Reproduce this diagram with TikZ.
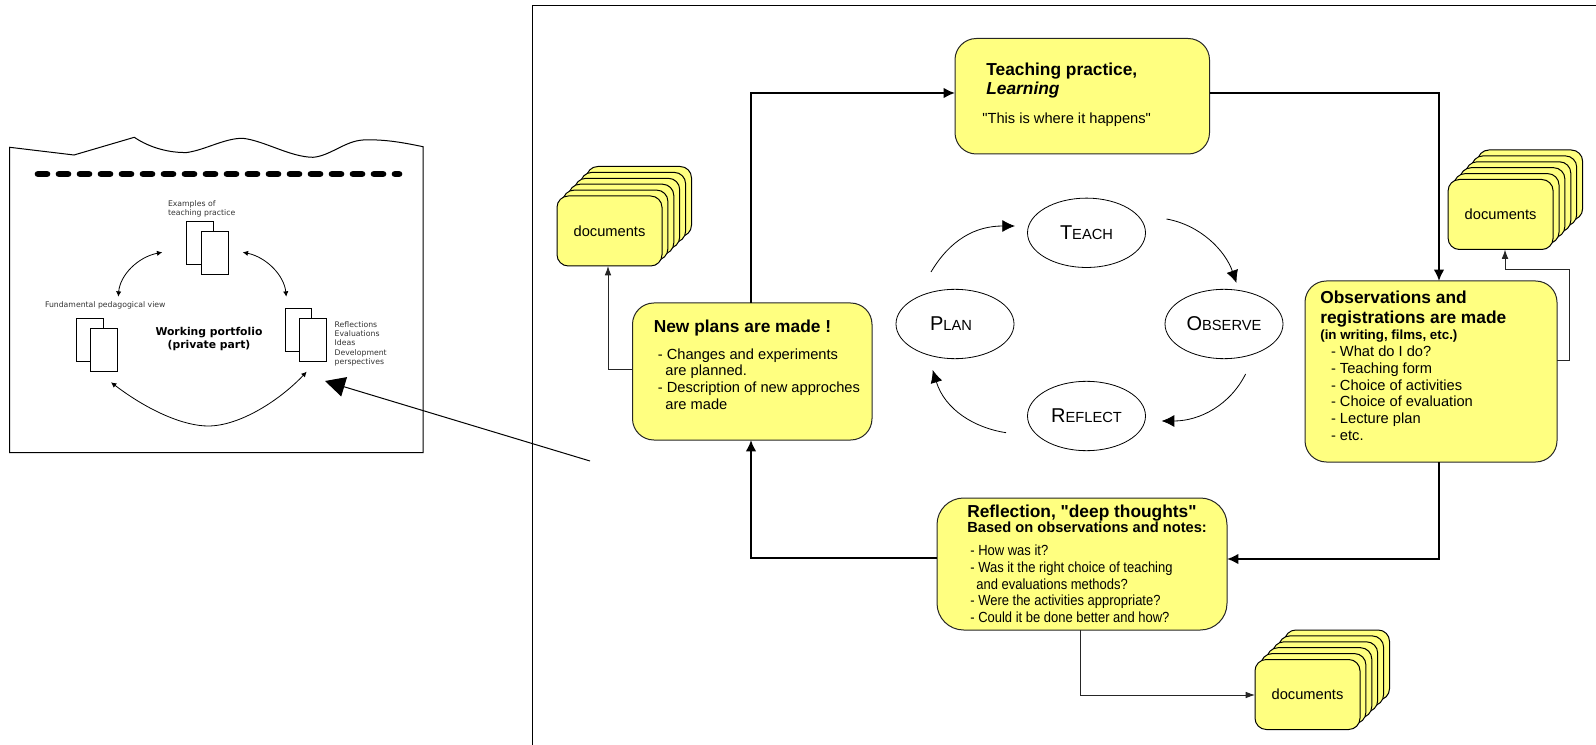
\documentclass[tikz,border=0pt]{standalone}
\usepackage{fontspec}
\setmainfont{Liberation Sans}[Ligatures=TeXOff]
\newfontfamily\smallfont{DejaVu Sans}
\newfontfamily\tightfont{Liberation Sans}[Ligatures=TeXOff,FakeStretch=0.885]
\usetikzlibrary{arrows.meta,calc,shapes.geometric}
\definecolor{boxyellow}{HTML}{FFFF80}
\newcommand{\boxtext}[4]{\begin{minipage}[c][\dimexpr#2pt*3/4\relax][t]{\dimexpr#1pt*3/4\relax}\parindent=0pt\rightskip=0pt plus 1fil\vspace*{#3pt}#4\end{minipage}}
\newcommand{\ttl}{\fontsize{13}{14.6}\bfseries\selectfont}
\newcommand{\bdy}{\fontsize{11}{12.6}\selectfont}
\newcommand{\capsword}[2]{{\fontsize{15}{15}\selectfont #1}{\fontsize{11}{11}\selectfont #2}}
\newcommand{\docstack}[4]{%
  \foreach \i in {5,4,3,2,1}{\node[docbox] at ($(#2,#3)+(5.9*\i,-5.9*\i)$) {};}
  \node[docbox] (#1) at (#2,#3) {#4};}
\tikzset{
  ybox/.style={draw=black!85,fill=boxyellow,line width=0.75pt,inner sep=0pt,outer sep=0pt},
  docbox/.style={draw=black,fill=boxyellow,line width=0.75pt,rounded corners=8.5pt,minimum width=78.75pt,minimum height=52.5pt,inner sep=0pt,outer sep=0pt,font=\fontsize{11}{12}\selectfont},
  phase/.style={draw=black,line width=0.6pt,ellipse,minimum width=88.5pt,minimum height=52pt,inner sep=0pt,outer sep=0pt},
  heavy/.style={line width=1.6pt,-{Latex[length=8.5pt,width=8pt]}},
  thin link/.style={line width=0.7pt,draw=black!85,-{Latex[length=7pt,width=5pt]}},
  cycle link/.style={line width=0.6pt,-{Latex[length=9.5pt,width=9pt]}},
  sheet/.style={draw=black,fill=white,line width=0.75pt,minimum width=20pt,minimum height=32.4pt,inner sep=0pt,outer sep=0pt},
  mini link/.style={line width=0.6pt,{Latex[length=4pt,width=4pt]}-{Latex[length=4pt,width=4pt]}},
  note/.style={inner sep=0pt,outer sep=0pt,text=black!80,font=\smallfont\fontsize{5.8}{6.9}\selectfont,align=left},
}
\begin{document}
\begin{tikzpicture}[x=0.75pt,y=-0.75pt]
\useasboundingbox (0,0) rectangle (1596,745);
% frame of the right panel
\draw[line width=0.75pt] (1596,6) -- (532,6) -- (532,745);
% working portfolio sheet
\draw[line width=0.75pt] (9.7,147.3) -- (74,155) -- (134.3,137.3)
  .. controls (150,148) and (170,153) .. (187,152.5)
  .. controls (205,150) and (225,138) .. (243,138.3)
  .. controls (265,141) and (290,157) .. (313,157.3)
  .. controls (330,156) and (345,141) .. (363,140)
  .. controls (385,139) and (405,143) .. (423,146.7)
  -- (423,452.7) -- (9.7,452.7) -- cycle;
\draw[line width=5pt,line cap=round,dash pattern=on 6.75pt off 9pt] (38,174) -- (399,174);
\node[sheet] (ex1) at (200.2,243.2) {};
\node[sheet] (ex2) at (215,253.2) {};
\node[sheet] (fu1) at (89.8,340.2) {};
\node[sheet] (fu2) at (104.3,350.2) {};
\node[sheet] (re1) at (298.5,330.2) {};
\node[sheet] (re2) at (312.8,340.2) {};
\coordinate (a1) at (162.3,252.3);
\coordinate (a2) at (118.3,296.7);
\coordinate (b1) at (242.7,252.3);
\coordinate (b2) at (286.3,296.7);
\coordinate (c1) at (111,382.3);
\coordinate (c2) at (306.7,371.7);
\draw[mini link] (a1) .. controls (138,257) and (120,275) .. (a2);
\draw[mini link] (b1) .. controls (266,257) and (284,275) .. (b2);
\draw[mini link] (c1) .. controls (150,412) and (185,426) .. (208,426) .. controls (240,426) and (280,400) .. (c2);
\node[note,anchor=west] (exl) at (168,209) {Examples of\\teaching practice};
\node[note,anchor=west] (ful) at (45,305) {Fundamental pedagogical view};
\node[note,anchor=west] (rel) at (334.7,343.7) {Reflections\\Evaluations\\Ideas\\Development\\perspectives};
\node[inner sep=0pt,align=center,font=\smallfont\bfseries\fontsize{8.1}{10}\selectfont] (wp) at (209,339) {Working portfolio\\(private part)};
% big arrow
\coordinate (bigstart) at (590,461);
\coordinate (bigtip) at (325,381);
\draw[line width=0.75pt,-{Triangle[length=15pt,width=15pt]}] (bigstart) -- (bigtip);
% boxes
\node[ybox,rounded corners=16pt] (teach) at (1082.25,96.25) {\boxtext{254.5}{115.5}{18}{%
  \leftskip=23.5pt\ttl Teaching practice,\\\itshape Learning\par
  \vspace{9pt}\leftskip=20.5pt\bdy\mdseries\upshape "This is where it happens"\par}};
\node[ybox,rounded corners=16pt] (plans) at (752.25,371.5) {\boxtext{239.5}{137}{13}{%
  \leftskip=16pt\ttl New plans are made !\par
  \vspace{7pt}\leftskip=19pt\bdy\mdseries - Changes and experiments\\\hspace*{5.7pt}are planned.\\- Description of new approches\\\hspace*{5.7pt}are made\par}};
\node[ybox,rounded corners=16pt] (obs) at (1431,371.5) {\boxtext{252}{181}{7.5}{%
  \leftskip=11.5pt\ttl Observations and\\registrations are made\par
  \vspace{0pt}\fontsize{10}{12}\selectfont (in writing, films, etc.)\par
  \vspace{0.5pt}\leftskip=19.5pt\bdy\mdseries - What do I do?\\- Teaching form\\- Choice of activities\\- Choice of evaluation\\- Lecture plan\\- etc.\par}};
\node[ybox,rounded corners=20pt] (refl) at (1082,564) {\boxtext{290}{132}{5}{%
  \leftskip=22.7pt\ttl Reflection, "deep thoughts"\par
  \vspace{-1.5pt}\fontsize{11}{12.6}\selectfont Based on observations and notes:\par
  \vspace{5pt}\leftskip=25pt\tightfont\bdy\mdseries - How was it?\\- Was it the right choice of teaching\\\hspace*{4.5pt}and evaluations methods?\\- Were the activities appropriate?\\- Could it be done better and how?\par}};
% document stacks
\docstack{docsL}{609.5}{231}{documents}
\docstack{docsR}{1500.6}{214.5}{documents}
\docstack{docsB}{1307.5}{694.5}{documents}
% cycle
\node[phase] (pTeach) at (1086.5,232.8) {\capsword{T}{EACH}};
\node[phase] (pPlan) at (955,324) {\raisebox{-2pt}{\hspace*{-6pt}\capsword{P}{LAN}}};
\node[phase] (pObs) at (1224,324) {\raisebox{-1.5pt}{\capsword{O}{BSERVE}}};
\node[phase] (pRefl) at (1086.5,416) {\raisebox{-2pt}{\capsword{R}{EFLECT}}};
\coordinate (s1) at (931,272);
\coordinate (e1) at (1015,226);
\coordinate (s2) at (1166.5,219);
\coordinate (e2) at (1236.5,283);
\coordinate (s3) at (1245.6,374);
\coordinate (e3) at (1161.6,421);
\coordinate (s4) at (1006,432.7);
\coordinate (e4) at (932.7,370);
\draw[cycle link] (s1) .. controls (950,240) and (975,226) .. (e1);
\draw[cycle link] (s2) .. controls (1200,225) and (1225,250) .. (e2);
\draw[cycle link] (s3) .. controls (1230,405) and (1200,421) .. (e3);
\draw[cycle link] (s4) .. controls (975,428) and (945,410) .. (e4);
% main loop
\draw[heavy] (plans.north -| 751,0) |- (teach.west |- 0,93);
\draw[heavy] (teach.east |- 0,93) -| (obs.north -| 1439,0);
\draw[heavy] (obs.south -| 1439,0) |- (refl.east |- 0,559);
\draw[heavy] (refl.west |- 0,558) -| (plans.south -| 751,0);
% document links
\coordinate (r1) at (1569,360);
\coordinate (r2) at (1569,269);
\coordinate (r3) at (1505,269);
\draw[thin link] (plans.west |- 0,369) -| (docsL.south -| 608,0);
\draw[thin link] (obs.east |- 0,360) -- (r1) -- (r2) -- (r3) -- (docsR.south -| 1505,0);
\draw[thin link] (refl.south -| 1080,0) |- (docsB.west |- 0,695);
\end{tikzpicture}
\end{document}
